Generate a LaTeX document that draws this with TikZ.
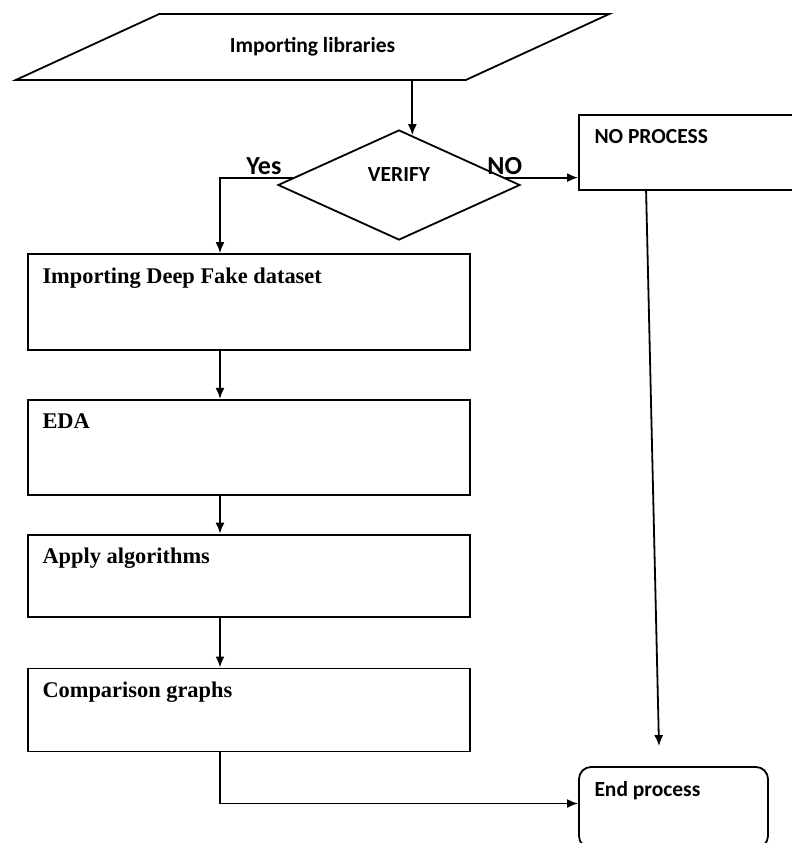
\documentclass[tikz,border=0pt]{standalone}
\usepackage{fontspec}
\setmainfont{Liberation Serif}
\newfontfamily\calibri{Carlito}
\usetikzlibrary{arrows.meta,positioning,shapes.geometric}
\tikzstyle{linea}=[
	draw=black,
	line width=0.9pt]
\tikzstyle{entrada}=[
	trapezium,
	trapezium left angle=21,
	trapezium right angle=159,
	trapezium stretches=true,
	linea,
	minimum width=297.5pt,
	minimum height=33pt,
	font=\calibri\bfseries\fontsize{10.75}{13}\selectfont]
\tikzstyle{decision}=[
	diamond,
	linea,
	inner sep=0pt,
	minimum width=121pt,
	minimum height=55pt]
\tikzstyle{bloque}=[
	rectangle,
	linea,
	inner sep=0pt,
	minimum width=221pt]
\tikzstyle{caja}=[
	rectangle,
	linea,
	inner sep=0pt]
\tikzstyle{texto}=[
	anchor=north west,
	inner sep=0pt,
	xshift=7.5pt,
	yshift=-7pt,
	font=\bfseries\fontsize{11.2}{13}\selectfont]
\tikzstyle{textosans}=[
	texto,
	xshift=0.5pt,
	yshift=-0.5pt,
	font=\calibri\bfseries\fontsize{10.75}{13}\selectfont]
\tikzstyle{rama}=[
	inner sep=1pt,
	font=\calibri\bfseries\fontsize{13}{15}\selectfont]
\tikzstyle{flecha}=[->,linea]

\begin{document}
\begin{tikzpicture}[x=0.5pt,y=-0.5pt,>={Latex[length=5.5pt,width=4.5pt]}]
	\useasboundingbox (0,0) rectangle (792,843);
	% top of the chart
	\node[entrada] (libs) at (312.5,47) {Importing libraries};
	\node[decision,label={[font=\calibri\bfseries\fontsize{10.75}{13}\selectfont,yshift=5pt]center:VERIFY}] (verify) at (399,185) {};
	\node[caja,minimum width=115.5pt,minimum height=37.5pt,label={[textosans]north west:NO PROCESS}] (noproc) at (694.5,152.5) {};
	% left column
	\node[bloque,minimum height=48pt,label={[texto]north west:Importing Deep Fake dataset}] (dataset) at (249,302) {};
	\node[bloque,minimum height=47.5pt,label={[texto]north west:EDA}] (eda) [below=24pt of dataset] {};
	\node[bloque,minimum height=41pt,label={[texto]north west:Apply algorithms}] (algo) [below=19pt of eda] {};
	\node[bloque,minimum height=41.5pt,label={[texto]north west:Comparison graphs}] (graphs) [below=25pt of algo] {};
	\node[caja,rounded corners=6pt,minimum width=94.5pt,minimum height=40.5pt,label={[textosans]north west:End process}] (endp) at (673.5,807.5) {};
	\coordinate (spine) at (220,0);
	% connectors
	\draw[flecha] (libs.south -| verify.75) -- (verify.75);
	\draw[flecha] (verify.176) -| node[rama,above,pos=0.2] {Yes} (spine |- dataset.north);
	\draw[flecha] (verify.4) -- node[rama,above,pos=0] {NO} (verify.4 -| noproc.west);
	\draw[flecha] (spine |- dataset.south) -- (spine |- eda.north);
	\draw[flecha] (spine |- eda.south) -- (spine |- algo.north);
	\draw[flecha] (spine |- algo.south) -- (spine |- graphs.north);
	\draw[flecha] ([xshift=34pt]noproc.south west) -- ([xshift=-7.25pt,yshift=10pt]endp.north);
	\draw[flecha] (spine |- graphs.south) |- ([yshift=2pt]endp.west);
\end{tikzpicture}
\end{document}
